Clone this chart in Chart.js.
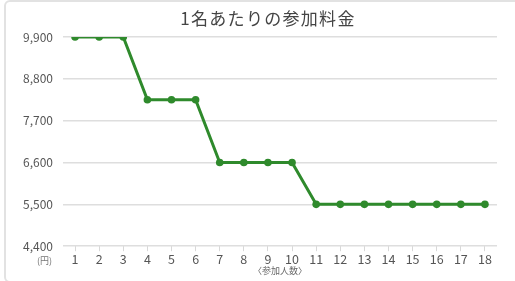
<!DOCTYPE html>
<html><head><meta charset="utf-8">
<script src="https://cdn.jsdelivr.net/npm/chart.js@4/dist/chart.umd.min.js"></script>
<style>
html,body{margin:0;padding:0;background:#fff;}
#frame{position:absolute;left:4px;top:0px;width:530px;height:279px;border:2px solid #e2e2e2;border-radius:6px;}
#wrap{position:absolute;left:0;top:0;width:515px;height:281px;}
</style></head><body>
<div id="frame"></div>
<div id="wrap"><canvas id="c" width="515" height="281"></canvas></div>
<script>
const categories = ['1','2','3','4','5','6','7','8','9','10','11','12','13','14','15','16','17','18'];
const feePerPerson = [9900,9900,9900,8250,8250,8250,6600,6600,6600,6600,5500,5500,5500,5500,5500,5500,5500,5500];
const yTickValues = [4400,5500,6600,7700,8800,9900];
const titleText = '1名あたりの参加料金';
const yUnit = '(円)';
const xTitle = '〈参加人数〉';

const font = "'Noto Sans CJK JP', 'Noto Sans', sans-serif";

const textPlugin = {
  id:'texts',
  afterDraw(chart){
    const ctx = chart.ctx;
    const y = chart.scales.y;
    const yb = y.getPixelForValue(yTickValues[0]);
    ctx.save();
    ctx.fillStyle = '#777';
    ctx.font = '9px ' + font;
    ctx.textAlign = 'right';
    ctx.textBaseline = 'middle';
    ctx.fillText(yUnit, 52, yb + 14);
    ctx.fillStyle = '#444';
    ctx.font = '17px ' + font;
    ctx.letterSpacing = '1.3px';
    ctx.textAlign = 'center';
    ctx.fillText(titleText, 268, 19);
    ctx.restore();
  }
};

new Chart(document.getElementById('c'), {
  type:'line',
  data:{
    labels:categories,
    datasets:[{
      data:feePerPerson,
      borderColor:'#2f8a2c',
      backgroundColor:'#2f8a2c',
      borderWidth:3,
      pointRadius:3.8,
      pointBackgroundColor:'#2f8a2c',
      pointBorderWidth:0,
      tension:0
    }]
  },
  options:{
    responsive:false,
    animation:false,
    layout:{padding:{left:10,right:18,top:37,bottom:5}},
    plugins:{
      legend:{display:false},
      tooltip:{enabled:false},
      title:{display:false}
    },
    scales:{
      x:{
        offset:true,
        grid:{display:true,drawOnChartArea:false,drawTicks:true,tickLength:5,color:'#d8d8d8',offset:false},
        border:{display:false},
        ticks:{color:'#555',font:{family:font,size:12.5},padding:1,maxRotation:0,autoSkip:false},
        title:{display:true,text:xTitle,color:'#666',font:{family:font,size:9},padding:{top:-3,bottom:0}}
      },
      y:{
        min:4400,max:9900,
        afterFit(s){ s.width = 53; },
        afterBuildTicks(s){ s.ticks = yTickValues.map(v=>({value:v})); },
        grid:{color:'#dedede',lineWidth:1.5,drawTicks:false},
        border:{display:false},
        ticks:{color:'#555',font:{family:font,size:12},padding:10,
          callback:v=>v.toLocaleString('en-US')}
      }
    }
  },
  plugins:[textPlugin]
});
</script>
</body></html>
